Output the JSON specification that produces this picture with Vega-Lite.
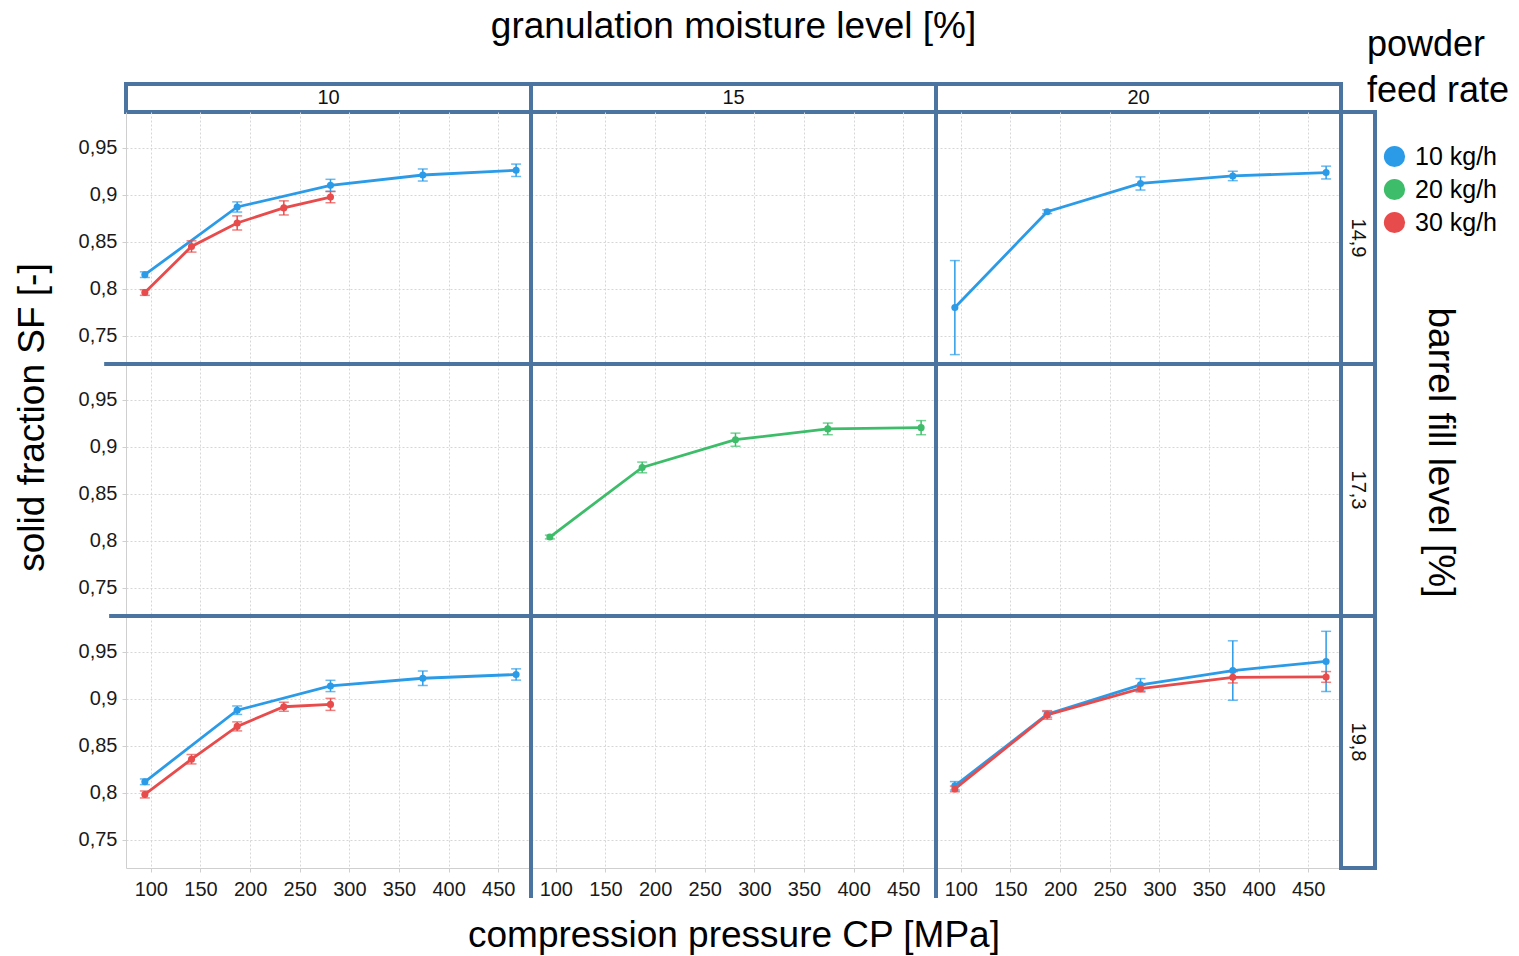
{
"$schema": "https://vega.github.io/schema/vega-lite/v6.json",
"padding": {"left": 13, "top": 6, "right": 5, "bottom": 5},
"data": {"name": "sf"},
"datasets": {"sf": [
{"m":"10","f":"14,9","rate":"10 kg/h","cp":94,"sf":0.815,"err":0.003},
{"m":"10","f":"14,9","rate":"10 kg/h","cp":187,"sf":0.887,"err":0.0054},
{"m":"10","f":"14,9","rate":"10 kg/h","cp":281,"sf":0.910,"err":0.0064},
{"m":"10","f":"14,9","rate":"10 kg/h","cp":374,"sf":0.921,"err":0.0064},
{"m":"10","f":"14,9","rate":"10 kg/h","cp":468,"sf":0.926,"err":0.0066},
{"m":"10","f":"14,9","rate":"30 kg/h","cp":94,"sf":0.796,"err":0.003},
{"m":"10","f":"14,9","rate":"30 kg/h","cp":141,"sf":0.845,"err":0.006},
{"m":"10","f":"14,9","rate":"30 kg/h","cp":187,"sf":0.870,"err":0.0075},
{"m":"10","f":"14,9","rate":"30 kg/h","cp":234,"sf":0.886,"err":0.0075},
{"m":"10","f":"14,9","rate":"30 kg/h","cp":281,"sf":0.8975,"err":0.006},
{"m":"20","f":"14,9","rate":"10 kg/h","cp":94,"sf":0.780,"err":0.05},
{"m":"20","f":"14,9","rate":"10 kg/h","cp":187,"sf":0.882,"err":0.002},
{"m":"20","f":"14,9","rate":"10 kg/h","cp":281,"sf":0.912,"err":0.007},
{"m":"20","f":"14,9","rate":"10 kg/h","cp":374,"sf":0.920,"err":0.005},
{"m":"20","f":"14,9","rate":"10 kg/h","cp":468,"sf":0.9236,"err":0.0068},
{"m":"15","f":"17,3","rate":"20 kg/h","cp":94,"sf":0.804,"err":0.002},
{"m":"15","f":"17,3","rate":"20 kg/h","cp":187,"sf":0.878,"err":0.0057},
{"m":"15","f":"17,3","rate":"20 kg/h","cp":281,"sf":0.9075,"err":0.007},
{"m":"15","f":"17,3","rate":"20 kg/h","cp":374,"sf":0.919,"err":0.0062},
{"m":"15","f":"17,3","rate":"20 kg/h","cp":468,"sf":0.9203,"err":0.0075},
{"m":"10","f":"19,8","rate":"10 kg/h","cp":94,"sf":0.8117,"err":0.003},
{"m":"10","f":"19,8","rate":"10 kg/h","cp":187,"sf":0.8878,"err":0.0045},
{"m":"10","f":"19,8","rate":"10 kg/h","cp":281,"sf":0.9136,"err":0.006},
{"m":"10","f":"19,8","rate":"10 kg/h","cp":374,"sf":0.9218,"err":0.0077},
{"m":"10","f":"19,8","rate":"10 kg/h","cp":468,"sf":0.9258,"err":0.006},
{"m":"10","f":"19,8","rate":"30 kg/h","cp":94,"sf":0.7982,"err":0.0037},
{"m":"10","f":"19,8","rate":"30 kg/h","cp":141,"sf":0.8357,"err":0.005},
{"m":"10","f":"19,8","rate":"30 kg/h","cp":187,"sf":0.8706,"err":0.0048},
{"m":"10","f":"19,8","rate":"30 kg/h","cp":234,"sf":0.8915,"err":0.0048},
{"m":"10","f":"19,8","rate":"30 kg/h","cp":281,"sf":0.894,"err":0.0064},
{"m":"20","f":"19,8","rate":"10 kg/h","cp":94,"sf":0.8074,"err":0.0045},
{"m":"20","f":"19,8","rate":"10 kg/h","cp":187,"sf":0.8834,"err":0.003},
{"m":"20","f":"19,8","rate":"10 kg/h","cp":281,"sf":0.9148,"err":0.0066},
{"m":"20","f":"19,8","rate":"10 kg/h","cp":374,"sf":0.930,"err":0.0316},
{"m":"20","f":"19,8","rate":"10 kg/h","cp":468,"sf":0.9397,"err":0.032},
{"m":"20","f":"19,8","rate":"30 kg/h","cp":94,"sf":0.8041,"err":0.003},
{"m":"20","f":"19,8","rate":"30 kg/h","cp":187,"sf":0.8828,"err":0.0045},
{"m":"20","f":"19,8","rate":"30 kg/h","cp":281,"sf":0.9107,"err":0.0035},
{"m":"20","f":"19,8","rate":"30 kg/h","cp":374,"sf":0.9228,"err":0.006},
{"m":"20","f":"19,8","rate":"30 kg/h","cp":468,"sf":0.9232,"err":0.0057}
]},
"columns": 4,
"spacing": 0,
"bounds": "flush",
"align": "each",
"resolve": {"scale": {"color": "shared"}, "legend": {"color": "shared"}},
"concat": [
{"width":405,"height":28,"view":{"stroke":"#4b74a0","strokeWidth":4,"fill":"white"},
 "transform":[{"filter":"datum.m === '10'"},{"aggregate":[{"op":"count","as":"n"}],"groupby":["m"]}],
 "mark":{"type":"text","fontSize":20,"color":"#111111"},"encoding":{"text":{"field":"m"}}},
{"width":405,"height":28,"view":{"stroke":"#4b74a0","strokeWidth":4,"fill":"white"},
 "title":{"text":"granulation moisture level [%]","offset":38,"anchor":"middle"},
 "transform":[{"filter":"datum.m === '15'"},{"aggregate":[{"op":"count","as":"n"}],"groupby":["m"]}],
 "mark":{"type":"text","fontSize":20,"color":"#111111"},"encoding":{"text":{"field":"m"}}},
{"width":405,"height":28,"view":{"stroke":"#4b74a0","strokeWidth":4,"fill":"white"},
 "transform":[{"filter":"datum.m === '20'"},{"aggregate":[{"op":"count","as":"n"}],"groupby":["m"]}],
 "mark":{"type":"text","fontSize":20,"color":"#111111"},"encoding":{"text":{"field":"m"}}},
{"width":34,"height":28,
 "transform":[{"filter":"datum.m === 'none'"}],
 "mark":{"type":"text"},"encoding":{"text":{"field":"m"}}},

{"width":405,"height":252,
 "layer":[
  {"transform":[{"filter":"datum.m === '10' && datum.f === '14,9'"}],
   "encoding":{
    "x":{"field":"cp","type":"quantitative","scale":{"domain":[75,483],"nice":false,"zero":false},"axis":{"values":[100,150,200,250,300,350,400,450],"labels":false,"ticks":false,"domain":false,"title":null}},
    "y":{"field":"sf","type":"quantitative","scale":{"domain":[0.72,0.988],"nice":false,"zero":false},"axis":{"values":[0.75,0.8,0.85,0.9,0.95],"labelExpr":"replace(toString(datum.value), '.', ',')","title":null}},
    "color":{"field":"rate","type":"nominal","title":["powder","feed rate"],"scale":{"domain":["10 kg/h","20 kg/h","30 kg/h"],"range":["#2b9be8","#3dbd6a","#e84b4b"]}}},
   "layer":[
    {"mark":{"type":"line","strokeWidth":2.8}},
    {"mark":{"type":"errorbar","ticks":{"size":10},"thickness":1.5},"encoding":{"yError":{"field":"err"}}},
    {"mark":{"type":"point","filled":true,"size":50,"opacity":1}}
   ]}
 ]},
{"width":405,"height":252,
 "layer":[
  {"transform":[{"filter":"datum.m === '15' && datum.f === '14,9'"}],
   "encoding":{
    "x":{"field":"cp","type":"quantitative","scale":{"domain":[75,483],"nice":false,"zero":false},"axis":{"values":[100,150,200,250,300,350,400,450],"labels":false,"ticks":false,"domain":false,"title":null}},
    "y":{"field":"sf","type":"quantitative","scale":{"domain":[0.72,0.988],"nice":false,"zero":false},"axis":{"values":[0.75,0.8,0.85,0.9,0.95],"labels":false,"ticks":false,"domain":false,"title":null}},
    "color":{"field":"rate","type":"nominal","title":["powder","feed rate"],"scale":{"domain":["10 kg/h","20 kg/h","30 kg/h"],"range":["#2b9be8","#3dbd6a","#e84b4b"]}}},
   "layer":[
    {"mark":{"type":"line","strokeWidth":2.8}},
    {"mark":{"type":"errorbar","ticks":{"size":10},"thickness":1.5},"encoding":{"yError":{"field":"err"}}},
    {"mark":{"type":"point","filled":true,"size":50,"opacity":1}}
   ]},
  {"transform":[{"aggregate":[{"op":"count","as":"n"}]}],"mark":{"type":"rule","color":"#4b74a0","strokeWidth":4},"encoding":{"x":{"datum":75}}}
 ]},
{"width":405,"height":252,
 "layer":[
  {"transform":[{"filter":"datum.m === '20' && datum.f === '14,9'"}],
   "encoding":{
    "x":{"field":"cp","type":"quantitative","scale":{"domain":[75,483],"nice":false,"zero":false},"axis":{"values":[100,150,200,250,300,350,400,450],"labels":false,"ticks":false,"domain":false,"title":null}},
    "y":{"field":"sf","type":"quantitative","scale":{"domain":[0.72,0.988],"nice":false,"zero":false},"axis":{"values":[0.75,0.8,0.85,0.9,0.95],"labels":false,"ticks":false,"domain":false,"title":null}},
    "color":{"field":"rate","type":"nominal","title":["powder","feed rate"],"scale":{"domain":["10 kg/h","20 kg/h","30 kg/h"],"range":["#2b9be8","#3dbd6a","#e84b4b"]}}},
   "layer":[
    {"mark":{"type":"line","strokeWidth":2.8}},
    {"mark":{"type":"errorbar","ticks":{"size":10},"thickness":1.5},"encoding":{"yError":{"field":"err"}}},
    {"mark":{"type":"point","filled":true,"size":50,"opacity":1}}
   ]},
  {"transform":[{"aggregate":[{"op":"count","as":"n"}]}],"mark":{"type":"rule","color":"#4b74a0","strokeWidth":4},"encoding":{"x":{"datum":75}}}
 ]},
{"width":34,"height":252,"view":{"stroke":"#4b74a0","strokeWidth":4,"fill":"white"},
 "transform":[{"filter":"datum.f === '14,9'"},{"aggregate":[{"op":"count","as":"n"}],"groupby":["f"]}],
 "mark":{"type":"text","fontSize":20,"angle":90,"color":"#111111"},"encoding":{"text":{"field":"f"}}},

{"width":405,"height":252,
 "layer":[
  {"transform":[{"filter":"datum.m === '10' && datum.f === '17,3'"}],
   "encoding":{
    "x":{"field":"cp","type":"quantitative","scale":{"domain":[75,483],"nice":false,"zero":false},"axis":{"values":[100,150,200,250,300,350,400,450],"labels":false,"ticks":false,"domain":false,"title":null}},
    "y":{"field":"sf","type":"quantitative","scale":{"domain":[0.72,0.988],"nice":false,"zero":false},"axis":{"values":[0.75,0.8,0.85,0.9,0.95],"labelExpr":"replace(toString(datum.value), '.', ',')","title":"solid fraction SF [-]","titleY":53,"titlePadding":27}},
    "color":{"field":"rate","type":"nominal","title":["powder","feed rate"],"scale":{"domain":["10 kg/h","20 kg/h","30 kg/h"],"range":["#2b9be8","#3dbd6a","#e84b4b"]}}},
   "layer":[
    {"mark":{"type":"line","strokeWidth":2.8}},
    {"mark":{"type":"errorbar","ticks":{"size":10},"thickness":1.5},"encoding":{"yError":{"field":"err"}}},
    {"mark":{"type":"point","filled":true,"size":50,"opacity":1}}
   ]},
  {"transform":[{"aggregate":[{"op":"count","as":"n"}]}],"mark":{"type":"rule","color":"#4b74a0","strokeWidth":4},"encoding":{"y":{"datum":0.988},"x":{"datum":53},"x2":{"datum":483}}}
 ]},
{"width":405,"height":252,
 "layer":[
  {"transform":[{"filter":"datum.m === '15' && datum.f === '17,3'"}],
   "encoding":{
    "x":{"field":"cp","type":"quantitative","scale":{"domain":[75,483],"nice":false,"zero":false},"axis":{"values":[100,150,200,250,300,350,400,450],"labels":false,"ticks":false,"domain":false,"title":null}},
    "y":{"field":"sf","type":"quantitative","scale":{"domain":[0.72,0.988],"nice":false,"zero":false},"axis":{"values":[0.75,0.8,0.85,0.9,0.95],"labels":false,"ticks":false,"domain":false,"title":null}},
    "color":{"field":"rate","type":"nominal","title":["powder","feed rate"],"scale":{"domain":["10 kg/h","20 kg/h","30 kg/h"],"range":["#2b9be8","#3dbd6a","#e84b4b"]}}},
   "layer":[
    {"mark":{"type":"line","strokeWidth":2.8}},
    {"mark":{"type":"errorbar","ticks":{"size":10},"thickness":1.5},"encoding":{"yError":{"field":"err"}}},
    {"mark":{"type":"point","filled":true,"size":50,"opacity":1}}
   ]},
  {"transform":[{"aggregate":[{"op":"count","as":"n"}]}],"mark":{"type":"rule","color":"#4b74a0","strokeWidth":4},"encoding":{"x":{"datum":75}}},
  {"transform":[{"aggregate":[{"op":"count","as":"n"}]}],"mark":{"type":"rule","color":"#4b74a0","strokeWidth":4},"encoding":{"y":{"datum":0.988}}}
 ]},
{"width":405,"height":252,
 "layer":[
  {"transform":[{"filter":"datum.m === '20' && datum.f === '17,3'"}],
   "encoding":{
    "x":{"field":"cp","type":"quantitative","scale":{"domain":[75,483],"nice":false,"zero":false},"axis":{"values":[100,150,200,250,300,350,400,450],"labels":false,"ticks":false,"domain":false,"title":null}},
    "y":{"field":"sf","type":"quantitative","scale":{"domain":[0.72,0.988],"nice":false,"zero":false},"axis":{"values":[0.75,0.8,0.85,0.9,0.95],"labels":false,"ticks":false,"domain":false,"title":null}},
    "color":{"field":"rate","type":"nominal","title":["powder","feed rate"],"scale":{"domain":["10 kg/h","20 kg/h","30 kg/h"],"range":["#2b9be8","#3dbd6a","#e84b4b"]}}},
   "layer":[
    {"mark":{"type":"line","strokeWidth":2.8}},
    {"mark":{"type":"errorbar","ticks":{"size":10},"thickness":1.5},"encoding":{"yError":{"field":"err"}}},
    {"mark":{"type":"point","filled":true,"size":50,"opacity":1}}
   ]},
  {"transform":[{"aggregate":[{"op":"count","as":"n"}]}],"mark":{"type":"rule","color":"#4b74a0","strokeWidth":4},"encoding":{"x":{"datum":75}}},
  {"transform":[{"aggregate":[{"op":"count","as":"n"}]}],"mark":{"type":"rule","color":"#4b74a0","strokeWidth":4},"encoding":{"y":{"datum":0.988}}}
 ]},
{"width":34,"height":252,"view":{"stroke":"#4b74a0","strokeWidth":4,"fill":"white"},
 "transform":[{"filter":"datum.f === '17,3'"},{"aggregate":[{"op":"count","as":"n"}],"groupby":["f"]}],
 "mark":{"type":"text","fontSize":20,"angle":90,"color":"#111111"},
 "encoding":{"text":{"field":"f"},
  "y":{"field":"f","type":"nominal","axis":{"orient":"right","labels":false,"ticks":false,"domain":false,"grid":false,"title":"barrel fill level [%]","titleAngle":90,"titleY":88,"titlePadding":45}}}},

{"width":405,"height":252,
 "layer":[
  {"transform":[{"filter":"datum.m === '10' && datum.f === '19,8'"}],
   "encoding":{
    "x":{"field":"cp","type":"quantitative","scale":{"domain":[75,483],"nice":false,"zero":false},"axis":{"values":[100,150,200,250,300,350,400,450],"title":null,"labelPadding":7}},
    "y":{"field":"sf","type":"quantitative","scale":{"domain":[0.72,0.988],"nice":false,"zero":false},"axis":{"values":[0.75,0.8,0.85,0.9,0.95],"labelExpr":"replace(toString(datum.value), '.', ',')","title":null}},
    "color":{"field":"rate","type":"nominal","title":["powder","feed rate"],"scale":{"domain":["10 kg/h","20 kg/h","30 kg/h"],"range":["#2b9be8","#3dbd6a","#e84b4b"]}}},
   "layer":[
    {"mark":{"type":"line","strokeWidth":2.8}},
    {"mark":{"type":"errorbar","ticks":{"size":10},"thickness":1.5},"encoding":{"yError":{"field":"err"}}},
    {"mark":{"type":"point","filled":true,"size":50,"opacity":1}}
   ]},
  {"transform":[{"aggregate":[{"op":"count","as":"n"}]}],"mark":{"type":"rule","color":"#4b74a0","strokeWidth":4},"encoding":{"y":{"datum":0.988},"x":{"datum":58},"x2":{"datum":483}}}
 ]},
{"width":405,"height":252,
 "layer":[
  {"transform":[{"filter":"datum.m === '15' && datum.f === '19,8'"}],
   "encoding":{
    "x":{"field":"cp","type":"quantitative","scale":{"domain":[75,483],"nice":false,"zero":false},"axis":{"values":[100,150,200,250,300,350,400,450],"title":"compression pressure CP [MPa]","labelPadding":7,"titlePadding":18}},
    "y":{"field":"sf","type":"quantitative","scale":{"domain":[0.72,0.988],"nice":false,"zero":false},"axis":{"values":[0.75,0.8,0.85,0.9,0.95],"labels":false,"ticks":false,"domain":false,"title":null}},
    "color":{"field":"rate","type":"nominal","title":["powder","feed rate"],"scale":{"domain":["10 kg/h","20 kg/h","30 kg/h"],"range":["#2b9be8","#3dbd6a","#e84b4b"]}}},
   "layer":[
    {"mark":{"type":"line","strokeWidth":2.8}},
    {"mark":{"type":"errorbar","ticks":{"size":10},"thickness":1.5},"encoding":{"yError":{"field":"err"}}},
    {"mark":{"type":"point","filled":true,"size":50,"opacity":1}}
   ]},
  {"transform":[{"aggregate":[{"op":"count","as":"n"}]}],"mark":{"type":"rule","color":"#4b74a0","strokeWidth":4},"encoding":{"x":{"datum":75},"y":{"datum":0.688},"y2":{"datum":0.988}}},
  {"transform":[{"aggregate":[{"op":"count","as":"n"}]}],"mark":{"type":"rule","color":"#4b74a0","strokeWidth":4},"encoding":{"y":{"datum":0.988}}}
 ]},
{"width":405,"height":252,
 "layer":[
  {"transform":[{"filter":"datum.m === '20' && datum.f === '19,8'"}],
   "encoding":{
    "x":{"field":"cp","type":"quantitative","scale":{"domain":[75,483],"nice":false,"zero":false},"axis":{"values":[100,150,200,250,300,350,400,450],"title":null,"labelPadding":7}},
    "y":{"field":"sf","type":"quantitative","scale":{"domain":[0.72,0.988],"nice":false,"zero":false},"axis":{"values":[0.75,0.8,0.85,0.9,0.95],"labels":false,"ticks":false,"domain":false,"title":null}},
    "color":{"field":"rate","type":"nominal","title":["powder","feed rate"],"scale":{"domain":["10 kg/h","20 kg/h","30 kg/h"],"range":["#2b9be8","#3dbd6a","#e84b4b"]}}},
   "layer":[
    {"mark":{"type":"line","strokeWidth":2.8}},
    {"mark":{"type":"errorbar","ticks":{"size":10},"thickness":1.5},"encoding":{"yError":{"field":"err"}}},
    {"mark":{"type":"point","filled":true,"size":50,"opacity":1}}
   ]},
  {"transform":[{"aggregate":[{"op":"count","as":"n"}]}],"mark":{"type":"rule","color":"#4b74a0","strokeWidth":4},"encoding":{"x":{"datum":75},"y":{"datum":0.688},"y2":{"datum":0.988}}},
  {"transform":[{"aggregate":[{"op":"count","as":"n"}]}],"mark":{"type":"rule","color":"#4b74a0","strokeWidth":4},"encoding":{"y":{"datum":0.988}}}
 ]},
{"width":34,"height":252,"view":{"stroke":"#4b74a0","strokeWidth":4,"fill":"white"},
 "transform":[{"filter":"datum.f === '19,8'"},{"aggregate":[{"op":"count","as":"n"}],"groupby":["f"]}],
 "mark":{"type":"text","fontSize":20,"angle":90,"color":"#111111"},"encoding":{"text":{"field":"f"}}}
],
"config": {
 "font": "Liberation Sans",
 "view": {"stroke": null},
 "axis": {"grid": true, "gridColor": "#d6d6d6", "gridDash": [2,2], "gridWidth": 1, "domainColor": "#cfcfcf", "tickColor": "#cfcfcf", "tickSize": 4, "labelFontSize": 20, "labelColor": "#1a1a1a", "labelPadding": 5, "titleFontSize": 37, "titleFontWeight": "normal", "titleColor": "#000000", "titlePadding": 12},
 "legend": {"orient": "none", "legendX": 1241, "legendY": -56, "symbolType": "circle", "symbolSize": 450, "symbolStrokeWidth": 0, "symbolOpacity": 1, "labelFontSize": 25, "labelColor": "#000000", "titleFontSize": 36, "titleFontWeight": "normal", "titleColor": "#000000", "titleLineHeight": 46, "titlePadding": 34, "rowPadding": 7, "symbolOffset": 15, "labelOffset": 8, "padding": 0},
 "title": {"fontSize": 37, "fontWeight": "normal", "color": "#000000"}
}
}
